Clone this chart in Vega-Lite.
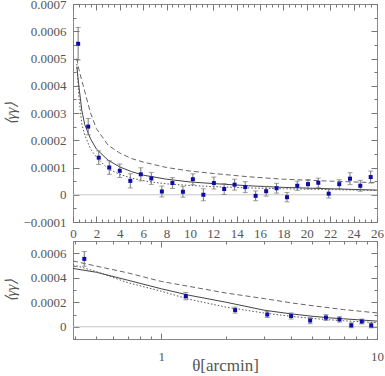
{
  "$schema": "https://vega.github.io/schema/vega-lite/v6.json",
  "padding": {"left": 2, "top": -3, "right": 0, "bottom": 0},
  "background": "white",
  "bounds": "flush",
  "spacing": 19,
  "config": {
    "view": {"stroke": "#888", "strokeWidth": 1},
    "axis": {
      "domain": false, "grid": false,
      "labelFont": "Liberation Serif", "labelFontSize": 13, "labelColor": "#555",
      "tickColor": "#777", "labelFlush": false, "labelOverlap": false,
      "titleFont": "Liberation Serif", "titleColor": "#555", "titleFontWeight": "normal"
    }
  },
  "datasets": {
    "zero": [{"y": 0}],
    "points": [
      {"x": 0.44, "y": 0.000554, "lo": 0.000494, "hi": 0.000614},
      {"x": 1.3, "y": 0.00025, "lo": 0.00022, "hi": 0.00028},
      {"x": 2.2, "y": 0.000136, "lo": 0.000111, "hi": 0.000161},
      {"x": 3.1, "y": 0.0001, "lo": 0.000075, "hi": 0.000125},
      {"x": 4.0, "y": 0.000088, "lo": 0.000063, "hi": 0.000113},
      {"x": 4.9, "y": 0.000051, "lo": 0.000025, "hi": 0.000077},
      {"x": 5.8, "y": 0.000075, "lo": 0.000051, "hi": 0.000099},
      {"x": 6.7, "y": 0.00006, "lo": 0.000038, "hi": 0.000082},
      {"x": 7.6, "y": 0.000012, "lo": -0.000008, "hi": 0.000032},
      {"x": 8.5, "y": 0.000043, "lo": 0.000023, "hi": 0.000063},
      {"x": 9.4, "y": 0.000011, "lo": -0.000009, "hi": 0.000031},
      {"x": 10.25, "y": 0.000057, "lo": 0.000037, "hi": 0.000077},
      {"x": 11.15, "y": 0.0, "lo": -0.000022, "hi": 0.000022},
      {"x": 12.05, "y": 0.000043, "lo": 0.000021, "hi": 0.000065},
      {"x": 12.93, "y": 0.000021, "lo": 0.000001, "hi": 0.000041},
      {"x": 13.82, "y": 0.000037, "lo": 0.000017, "hi": 0.000057},
      {"x": 14.73, "y": 0.000028, "lo": 0.000008, "hi": 0.000048},
      {"x": 15.62, "y": -0.000004, "lo": -0.000022, "hi": 0.000014},
      {"x": 16.52, "y": 0.000013, "lo": -0.000005, "hi": 0.000031},
      {"x": 17.41, "y": 0.000024, "lo": 0.000006, "hi": 0.000042},
      {"x": 18.3, "y": -0.000009, "lo": -0.000026, "hi": 0.000008},
      {"x": 19.18, "y": 0.000033, "lo": 0.000016, "hi": 0.00005},
      {"x": 20.1, "y": 0.000039, "lo": 0.000022, "hi": 0.000056},
      {"x": 20.98, "y": 0.000044, "lo": 0.000027, "hi": 0.000061},
      {"x": 21.87, "y": 0.000004, "lo": -0.000012, "hi": 0.00002},
      {"x": 22.77, "y": 0.000039, "lo": 0.000023, "hi": 0.000055},
      {"x": 23.69, "y": 0.000059, "lo": 0.000037, "hi": 0.000081},
      {"x": 24.57, "y": 0.000033, "lo": 0.000013, "hi": 0.000053},
      {"x": 25.46, "y": 0.000065, "lo": 0.000043, "hi": 0.000087}
    ],
    "curvesTop": [
      {"model": "dashed", "x": 0.33, "y": 0.0005},
      {"model": "dashed", "x": 0.5, "y": 0.00046},
      {"model": "dashed", "x": 0.75, "y": 0.00042},
      {"model": "dashed", "x": 1, "y": 0.00038},
      {"model": "dashed", "x": 1.5, "y": 0.0003},
      {"model": "dashed", "x": 2, "y": 0.000243},
      {"model": "dashed", "x": 3, "y": 0.000182},
      {"model": "dashed", "x": 4, "y": 0.000153},
      {"model": "dashed", "x": 5, "y": 0.000133},
      {"model": "dashed", "x": 6, "y": 0.00012},
      {"model": "dashed", "x": 8, "y": 0.0001},
      {"model": "dashed", "x": 10, "y": 0.000087},
      {"model": "dashed", "x": 12, "y": 0.000078},
      {"model": "dashed", "x": 15, "y": 0.000066},
      {"model": "dashed", "x": 18, "y": 0.000057},
      {"model": "dashed", "x": 22, "y": 0.00005},
      {"model": "dashed", "x": 26, "y": 0.000044},
      {"model": "solid", "x": 0.33, "y": 0.00047},
      {"model": "solid", "x": 0.5, "y": 0.0004},
      {"model": "solid", "x": 0.75, "y": 0.00031},
      {"model": "solid", "x": 1, "y": 0.000258},
      {"model": "solid", "x": 1.5, "y": 0.000205},
      {"model": "solid", "x": 2, "y": 0.000168},
      {"model": "solid", "x": 3, "y": 0.000127},
      {"model": "solid", "x": 4, "y": 0.000102},
      {"model": "solid", "x": 5, "y": 0.000085},
      {"model": "solid", "x": 6, "y": 0.000072},
      {"model": "solid", "x": 8, "y": 0.000057},
      {"model": "solid", "x": 10, "y": 0.000047},
      {"model": "solid", "x": 12, "y": 0.000041},
      {"model": "solid", "x": 15, "y": 0.000033},
      {"model": "solid", "x": 18, "y": 0.000027},
      {"model": "solid", "x": 22, "y": 0.000022},
      {"model": "solid", "x": 26, "y": 0.000017},
      {"model": "dotted", "x": 0.33, "y": 0.00048},
      {"model": "dotted", "x": 0.5, "y": 0.00036},
      {"model": "dotted", "x": 0.75, "y": 0.00026},
      {"model": "dotted", "x": 1, "y": 0.00022},
      {"model": "dotted", "x": 1.5, "y": 0.000168},
      {"model": "dotted", "x": 2, "y": 0.000138},
      {"model": "dotted", "x": 3, "y": 0.000095},
      {"model": "dotted", "x": 4, "y": 0.000075},
      {"model": "dotted", "x": 5, "y": 0.000061},
      {"model": "dotted", "x": 6.5, "y": 0.000048},
      {"model": "dotted", "x": 8, "y": 0.00004},
      {"model": "dotted", "x": 10, "y": 0.000034},
      {"model": "dotted", "x": 12, "y": 0.00003},
      {"model": "dotted", "x": 15, "y": 0.000025},
      {"model": "dotted", "x": 18, "y": 0.000022},
      {"model": "dotted", "x": 22, "y": 0.000019},
      {"model": "dotted", "x": 26, "y": 0.000016}
    ],
    "curvesBot": [
      {"model": "dashed", "x": 0.39, "y": 0.000537},
      {"model": "dashed", "x": 0.5, "y": 0.000495},
      {"model": "dashed", "x": 0.7, "y": 0.00044},
      {"model": "dashed", "x": 1, "y": 0.00037},
      {"model": "dashed", "x": 1.34, "y": 0.00033},
      {"model": "dashed", "x": 2, "y": 0.000275},
      {"model": "dashed", "x": 3, "y": 0.00023},
      {"model": "dashed", "x": 4, "y": 0.000195},
      {"model": "dashed", "x": 5, "y": 0.000172},
      {"model": "dashed", "x": 6, "y": 0.000155},
      {"model": "dashed", "x": 7, "y": 0.00014},
      {"model": "dashed", "x": 8, "y": 0.00013},
      {"model": "dashed", "x": 10, "y": 0.000113},
      {"model": "solid", "x": 0.39, "y": 0.000476},
      {"model": "solid", "x": 0.5, "y": 0.000445},
      {"model": "solid", "x": 0.7, "y": 0.00038},
      {"model": "solid", "x": 1, "y": 0.00031},
      {"model": "solid", "x": 1.34, "y": 0.000258},
      {"model": "solid", "x": 2, "y": 0.0002},
      {"model": "solid", "x": 3, "y": 0.000135},
      {"model": "solid", "x": 4, "y": 0.000105},
      {"model": "solid", "x": 5, "y": 0.000086},
      {"model": "solid", "x": 6, "y": 0.000073},
      {"model": "solid", "x": 7, "y": 0.000065},
      {"model": "solid", "x": 8, "y": 0.000058},
      {"model": "solid", "x": 10, "y": 0.000046},
      {"model": "dotted", "x": 0.39, "y": 0.000506},
      {"model": "dotted", "x": 0.5, "y": 0.00045},
      {"model": "dotted", "x": 0.7, "y": 0.00036},
      {"model": "dotted", "x": 1, "y": 0.00029},
      {"model": "dotted", "x": 1.34, "y": 0.000225},
      {"model": "dotted", "x": 2, "y": 0.00016},
      {"model": "dotted", "x": 3, "y": 0.000112},
      {"model": "dotted", "x": 4, "y": 0.000085},
      {"model": "dotted", "x": 5, "y": 0.000068},
      {"model": "dotted", "x": 6, "y": 0.000057},
      {"model": "dotted", "x": 7, "y": 0.000049},
      {"model": "dotted", "x": 8, "y": 0.000043},
      {"model": "dotted", "x": 10, "y": 0.000033}
    ]
  },
  "vconcat": [
    {
      "width": 304,
      "height": 218,
      "resolve": {"axis": {"x": "independent", "y": "independent"}},
      "layer": [
        {
          "data": {"name": "zero"},
          "mark": {"type": "rule", "color": "#c8c8c8", "strokeWidth": 1},
          "encoding": {
            "y": {"field": "y", "type": "quantitative", "axis": null, "scale": {"domain": [-0.0001, 0.0007], "nice": false, "zero": false}}
          }
        },
        {
          "data": {"name": "curvesTop"},
          "transform": [{"filter": "datum.model == 'dashed'"}],
          "mark": {"type": "line", "color": "#666", "strokeWidth": 1, "strokeDash": [5, 3]},
          "encoding": {
            "x": {"field": "x", "type": "quantitative", "scale": {"domain": [0, 26], "nice": false, "zero": false},
              "axis": {"orient": "bottom", "values": [0, 2, 4, 6, 8, 10, 12, 14, 16, 18, 20, 22, 24, 26], "format": "d", "tickSize": -6, "labelPadding": 11, "title": null}},
            "y": {"field": "y", "type": "quantitative", "scale": {"domain": [-0.0001, 0.0007], "nice": false, "zero": false},
              "axis": {"orient": "left", "values": [-0.0001, 0, 0.0001, 0.0002, 0.0003, 0.0004, 0.0005, 0.0006, 0.0007], "labelExpr": "datum.value == 0 ? '0' : format(datum.value, '.4f')", "tickSize": -6, "labelPadding": 13, "title": "⟨γγ⟩", "titleFontSize": 15, "titleFontStyle": "italic", "titlePadding": 4}}
          }
        },
        {
          "data": {"name": "curvesTop"},
          "transform": [{"filter": "datum.model == 'solid'"}],
          "mark": {"type": "line", "color": "#444", "strokeWidth": 1},
          "encoding": {
            "x": {"field": "x", "type": "quantitative", "scale": {"domain": [0, 26], "nice": false, "zero": false},
              "axis": {"orient": "bottom", "values": [0.5, 1, 1.5, 2.5, 3, 3.5, 4.5, 5, 5.5, 6.5, 7, 7.5, 8.5, 9, 9.5, 10.5, 11, 11.5, 12.5, 13, 13.5, 14.5, 15, 15.5, 16.5, 17, 17.5, 18.5, 19, 19.5, 20.5, 21, 21.5, 22.5, 23, 23.5, 24.5, 25, 25.5], "tickSize": -3, "labels": false, "title": null}},
            "y": {"field": "y", "type": "quantitative", "scale": {"domain": [-0.0001, 0.0007], "nice": false, "zero": false},
              "axis": {"orient": "left", "values": [-0.00005, 0.00005, 0.00015, 0.00025, 0.00035, 0.00045, 0.00055, 0.00065], "tickSize": -3, "labels": false, "title": null}}
          }
        },
        {
          "data": {"name": "curvesTop"},
          "transform": [{"filter": "datum.model == 'dotted'"}],
          "mark": {"type": "line", "color": "#555", "strokeWidth": 1, "strokeDash": [1.5, 2]},
          "encoding": {
            "x": {"field": "x", "type": "quantitative", "scale": {"domain": [0, 26], "nice": false, "zero": false},
              "axis": {"orient": "top", "values": [0, 2, 4, 6, 8, 10, 12, 14, 16, 18, 20, 22, 24, 26], "tickSize": -6, "labels": false, "title": null}},
            "y": {"field": "y", "type": "quantitative", "scale": {"domain": [-0.0001, 0.0007], "nice": false, "zero": false},
              "axis": {"orient": "right", "values": [-0.0001, 0, 0.0001, 0.0002, 0.0003, 0.0004, 0.0005, 0.0006, 0.0007], "tickSize": -6, "labels": false, "title": null}}
          }
        },
        {
          "data": {"name": "points"},
          "mark": {"type": "errorbar", "ticks": {"size": 5}, "color": "#777"},
          "encoding": {
            "x": {"field": "x", "type": "quantitative", "axis": null, "scale": {"domain": [0, 26], "nice": false, "zero": false}},
            "y": {"field": "lo", "type": "quantitative", "axis": null, "scale": {"domain": [-0.0001, 0.0007], "nice": false, "zero": false}},
            "y2": {"field": "hi"}
          }
        },
        {
          "data": {"name": "points"},
          "mark": {"type": "square", "size": 16, "color": "#0c0ca8", "opacity": 1},
          "encoding": {
            "x": {"field": "x", "type": "quantitative", "scale": {"domain": [0, 26], "nice": false, "zero": false},
              "axis": {"orient": "top", "values": [0.5, 1, 1.5, 2.5, 3, 3.5, 4.5, 5, 5.5, 6.5, 7, 7.5, 8.5, 9, 9.5, 10.5, 11, 11.5, 12.5, 13, 13.5, 14.5, 15, 15.5, 16.5, 17, 17.5, 18.5, 19, 19.5, 20.5, 21, 21.5, 22.5, 23, 23.5, 24.5, 25, 25.5], "tickSize": -3, "labels": false, "title": null}},
            "y": {"field": "y", "type": "quantitative", "scale": {"domain": [-0.0001, 0.0007], "nice": false, "zero": false},
              "axis": {"orient": "right", "values": [-0.00005, 0.00005, 0.00015, 0.00025, 0.00035, 0.00045, 0.00055, 0.00065], "tickSize": -3, "labels": false, "title": null}}
          }
        }
      ]
    },
    {
      "width": 304,
      "height": 98,
      "resolve": {"axis": {"x": "independent", "y": "independent"}},
      "layer": [
        {
          "data": {"name": "zero"},
          "mark": {"type": "rule", "color": "#c8c8c8", "strokeWidth": 1},
          "encoding": {
            "y": {"field": "y", "type": "quantitative", "axis": null, "scale": {"domain": [-0.0001, 0.0007], "nice": false, "zero": false}}
          }
        },
        {
          "data": {"name": "curvesBot"},
          "transform": [{"filter": "datum.model == 'dashed'"}],
          "mark": {"type": "line", "color": "#666", "strokeWidth": 1, "strokeDash": [5, 3]},
          "encoding": {
            "x": {"field": "x", "type": "quantitative", "scale": {"type": "log", "domain": [0.39, 10], "nice": false},
              "axis": {"orient": "bottom", "values": [1, 10], "format": "d", "tickSize": -6, "labelPadding": 17, "title": "θ[arcmin]", "titleFontSize": 17, "titlePadding": -6}},
            "y": {"field": "y", "type": "quantitative", "scale": {"domain": [-0.0001, 0.0007], "nice": false, "zero": false},
              "axis": {"orient": "left", "values": [0, 0.0002, 0.0004, 0.0006], "labelExpr": "datum.value == 0 ? '0' : format(datum.value, '.4f')", "tickSize": -6, "labelPadding": 13, "title": "⟨γγ⟩", "titleFontSize": 15, "titleFontStyle": "italic", "titlePadding": 12}}
          }
        },
        {
          "data": {"name": "curvesBot"},
          "transform": [{"filter": "datum.model == 'solid'"}],
          "mark": {"type": "line", "color": "#444", "strokeWidth": 1},
          "encoding": {
            "x": {"field": "x", "type": "quantitative", "scale": {"type": "log", "domain": [0.39, 10], "nice": false},
              "axis": {"orient": "bottom", "values": [0.4, 0.5, 0.6, 0.7, 0.8, 0.9, 2, 3, 4, 5, 6, 7, 8, 9], "tickSize": -3, "labels": false, "title": null}},
            "y": {"field": "y", "type": "quantitative", "scale": {"domain": [-0.0001, 0.0007], "nice": false, "zero": false},
              "axis": {"orient": "left", "values": [-0.0001, 0.0001, 0.0003, 0.0005, 0.0007], "tickSize": -3, "labels": false, "title": null}}
          }
        },
        {
          "data": {"name": "curvesBot"},
          "transform": [{"filter": "datum.model == 'dotted'"}],
          "mark": {"type": "line", "color": "#555", "strokeWidth": 1, "strokeDash": [1.5, 2]},
          "encoding": {
            "x": {"field": "x", "type": "quantitative", "scale": {"type": "log", "domain": [0.39, 10], "nice": false},
              "axis": {"orient": "top", "values": [1, 10], "tickSize": -6, "labels": false, "title": null}},
            "y": {"field": "y", "type": "quantitative", "scale": {"domain": [-0.0001, 0.0007], "nice": false, "zero": false},
              "axis": {"orient": "right", "values": [0, 0.0002, 0.0004, 0.0006], "tickSize": -6, "labels": false, "title": null}}
          }
        },
        {
          "data": {"name": "points"},
          "transform": [{"filter": "datum.x < 10"}],
          "mark": {"type": "errorbar", "ticks": {"size": 5}, "color": "#777"},
          "encoding": {
            "x": {"field": "x", "type": "quantitative", "axis": null, "scale": {"type": "log", "domain": [0.39, 10], "nice": false}},
            "y": {"field": "lo", "type": "quantitative", "axis": null, "scale": {"domain": [-0.0001, 0.0007], "nice": false, "zero": false}},
            "y2": {"field": "hi"}
          }
        },
        {
          "data": {"name": "points"},
          "transform": [{"filter": "datum.x < 10"}],
          "mark": {"type": "square", "size": 16, "color": "#0c0ca8", "opacity": 1},
          "encoding": {
            "x": {"field": "x", "type": "quantitative", "scale": {"type": "log", "domain": [0.39, 10], "nice": false},
              "axis": {"orient": "top", "values": [0.4, 0.5, 0.6, 0.7, 0.8, 0.9, 2, 3, 4, 5, 6, 7, 8, 9], "tickSize": -3, "labels": false, "title": null}},
            "y": {"field": "y", "type": "quantitative", "scale": {"domain": [-0.0001, 0.0007], "nice": false, "zero": false},
              "axis": {"orient": "right", "values": [-0.0001, 0.0001, 0.0003, 0.0005, 0.0007], "tickSize": -3, "labels": false, "title": null}}
          }
        }
      ]
    }
  ]
}
